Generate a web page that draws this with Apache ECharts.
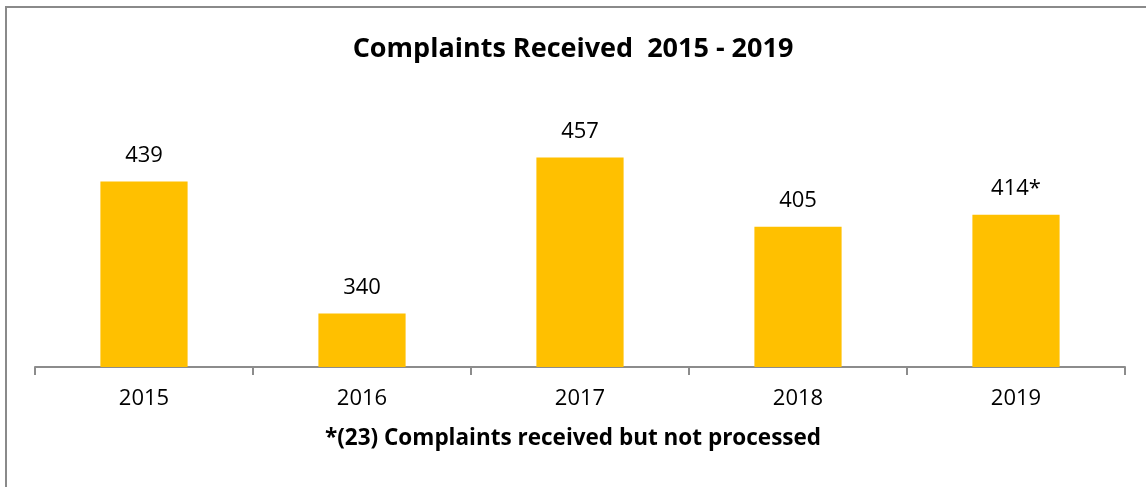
<!DOCTYPE html>
<html>
<head>
<meta charset="utf-8">
<script src="https://cdn.jsdelivr.net/npm/echarts@6/dist/echarts.min.js"></script>
<style>
  html, body { margin: 0; padding: 0; background: #fff; }
  #chart { width: 1146px; height: 487px; }
</style>
</head>
<body>
<div id="chart"></div>
<script>
// chart data
const years = ['2015', '2016', '2017', '2018', '2019']
const complaints = [439, 340, 457, 405, 414]
const valueLabels = ['439', '340', '457', '405', '414*']

const chart = echarts.init(document.getElementById('chart'))
const option = {
  backgroundColor: '#fff',
  animation: false,
  title: {
    text: 'Complaints Received  2015 - 2019',
    left: 'center',
    top: 31,
    textStyle: { fontFamily: 'Open Sans', fontWeight: 'bold', fontSize: 27, color: '#000' }
  },
  graphic: [
    {
      type: 'rect',
      shape: { x: 6, y: 7, width: 1160, height: 500 },
      style: { fill: 'none', stroke: '#8a8a8a', lineWidth: 2 },
      silent: true
    },
    {
      type: 'text',
      left: 'center',
      top: 427,
      style: {
        text: '*(23) Complaints received but not processed',
        fontFamily: 'Open Sans',
        fontWeight: 'bold',
        fontSize: 22.5,
        fill: '#000'
      }
    }
  ],
  grid: { left: 35, right: 21, top: 100, bottom: 120 },
  xAxis: {
    type: 'category',
    data: years,
    axisLine: { lineStyle: { color: '#8c8c8c', width: 2 } },
    axisTick: { show: true, alignWithLabel: false, length: 8, lineStyle: { color: '#8c8c8c', width: 2 } },
    axisLabel: { fontFamily: 'Open Sans', fontSize: 22, color: '#000', margin: 21 }
  },
  yAxis: {
    type: 'value',
    min: 300,
    max: 500,
    show: false,
    splitLine: { show: false }
  },
  series: [
    {
      type: 'bar',
      data: complaints,
      barWidth: '40%',
      itemStyle: { color: '#FFC000' },
      label: {
        show: true,
        position: 'top',
        distance: 15,
        fontFamily: 'Open Sans',
        fontSize: 22,
        color: '#000',
        formatter: p => valueLabels[p.dataIndex]
      }
    }
  ]
}
chart.setOption(option)
</script>
</body>
</html>
